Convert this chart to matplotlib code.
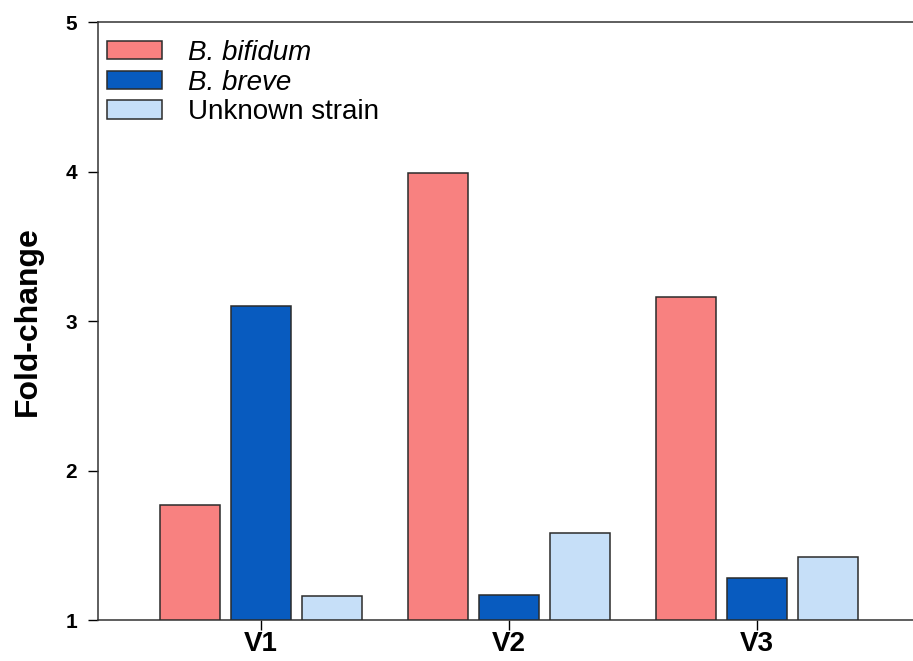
import numpy as np
import matplotlib
matplotlib.use("Agg")
import matplotlib.pyplot as plt

plt.rcParams['font.family'] = ['Liberation Sans', 'DejaVu Sans']

visits = ["V1", "V2", "V3"]
series = ["B. bifidum", "B. breve", "Unknown strain"]
bifidum = [1.77, 3.99, 3.16]
breve = [3.10, 1.17, 1.28]
unknown = [1.16, 1.58, 1.42]
colors = ["#F88180", "#085BBF", "#C6DFF8"]

x = np.arange(len(visits))
width = 0.242
step = 0.286

fig = plt.figure(figsize=(9.13, 6.61), dpi=100)
ax = fig.add_axes([0.1073, 0.062, 0.8927, 0.9047])

for i, (vals, name) in enumerate(zip([bifidum, breve, unknown], series)):
    ax.bar(x + (i - 1) * step, np.array(vals) - 1, width, bottom=1,
           color=colors[i], edgecolor='#2b2b2b', linewidth=1.1,
           label=name, zorder=3)

ax.set_xlim(-0.657, 2.629)
ax.set_ylim(1, 5)
ax.set_xticks(x)
ax.set_xticklabels(visits, fontsize=20, fontweight='bold')
ax.set_yticks([1, 2, 3, 4, 5])
ax.set_yticklabels(["1", "2", "3", "4", "5"], fontsize=15, fontweight='bold')
ax.tick_params(axis='y', direction='out', length=7, width=1, pad=8)
ax.tick_params(axis='x', direction='out', length=7, width=1, pad=1)
ax.spines['right'].set_visible(False)
for s in ['left', 'bottom', 'top']:
    ax.spines[s].set_linewidth(1.1)
    ax.spines[s].set_color('#333333')

ax.set_ylabel("Fold-change", fontsize=23, fontweight='bold')
ax.yaxis.set_label_coords(-0.067, 0.5)

leg = ax.legend(loc='upper left', bbox_to_anchor=(0.011, 0.97),
                frameon=False, fontsize=20, borderpad=0, borderaxespad=0,
                handlelength=1.98, handleheight=0.65, handletextpad=0.94,
                labelspacing=0.13)
for t in leg.get_texts()[:2]:
    t.set_style('italic')

fig.savefig("out.png", dpi=100)
